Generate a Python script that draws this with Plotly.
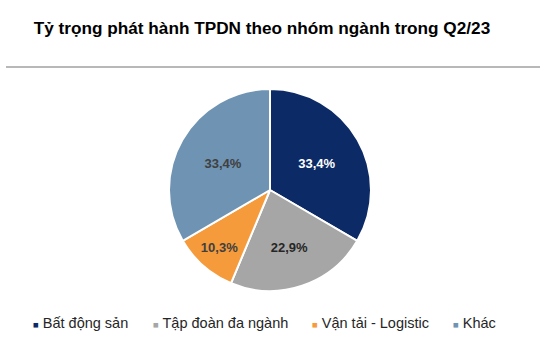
import plotly.graph_objects as go

categories = ["Bất động sản", "Tập đoàn đa ngành", "Vận tải - Logistic", "Khác"]
values = [33.4, 22.9, 10.3, 33.4]
colors = ["#0C2A66", "#A6A6A6", "#F59B3C", "#6E93B3"]
text_colors = ["#FFFFFF", "#262626", "#404040", "#404040"]
labels_text = [f"{v:.1f}".replace(".", ",") + "%" for v in values]

W, H = 544, 348
cx, cy, r = 270, 190, 101
legend_marker_px = [35, 155, 314, 455]

fig = go.Figure()
fig.add_trace(go.Pie(
    labels=categories, values=values, text=labels_text,
    texttemplate="<b>%{text}</b>", textinfo="text",
    sort=False, direction="clockwise", rotation=0,
    marker=dict(colors=colors, line=dict(color="white", width=2)),
    textposition="inside", insidetextorientation="horizontal",
    textfont=dict(family="Liberation Sans", size=13, color=text_colors),
    showlegend=False,
    domain=dict(x=[(cx - r) / W, (cx + r) / W], y=[(H - cy - r) / H, (H - cy + r) / H]),
))

legend_layouts = {}
for i, (cat, col, mx) in enumerate(zip(categories, colors, legend_marker_px)):
    key = "legend" if i == 0 else f"legend{i + 1}"
    fig.add_trace(go.Scatter(
        x=[None], y=[None], mode="markers",
        name=f"<span style='font-size:9.5px;color:{col}'>■</span> {cat}",
        marker=dict(symbol="square", size=1, color="rgba(0,0,0,0)"),
        showlegend=True, legend=key,
    ))
    legend_layouts[key] = dict(
        orientation="h", x=(mx - 42) / W, xanchor="left", y=(H - 322) / H, yanchor="middle",
        font=dict(family="Liberation Sans", size=14.5, color="#262626"),
        bgcolor="rgba(0,0,0,0)", borderwidth=0,
    )

fig.add_shape(type="line", xref="paper", yref="paper",
              x0=6 / W, x1=540 / W, y0=(H - 67) / H, y1=(H - 67) / H,
              line=dict(color="#A0A0A0", width=1.5))

fig.update_layout(
    width=W, height=H,
    margin=dict(l=0, r=0, t=0, b=0, autoexpand=False),
    paper_bgcolor="white", plot_bgcolor="white",
    title=dict(text="<b>Tỷ trọng phát hành TPDN theo nhóm ngành trong Q2/23</b>",
               x=262 / W, xanchor="center", y=1 - 28 / H, yanchor="middle",
               font=dict(family="Liberation Sans", size=17.2, color="#000000")),
    xaxis=dict(visible=False), yaxis=dict(visible=False),
    **legend_layouts,
)

fig.write_html("out.html")
